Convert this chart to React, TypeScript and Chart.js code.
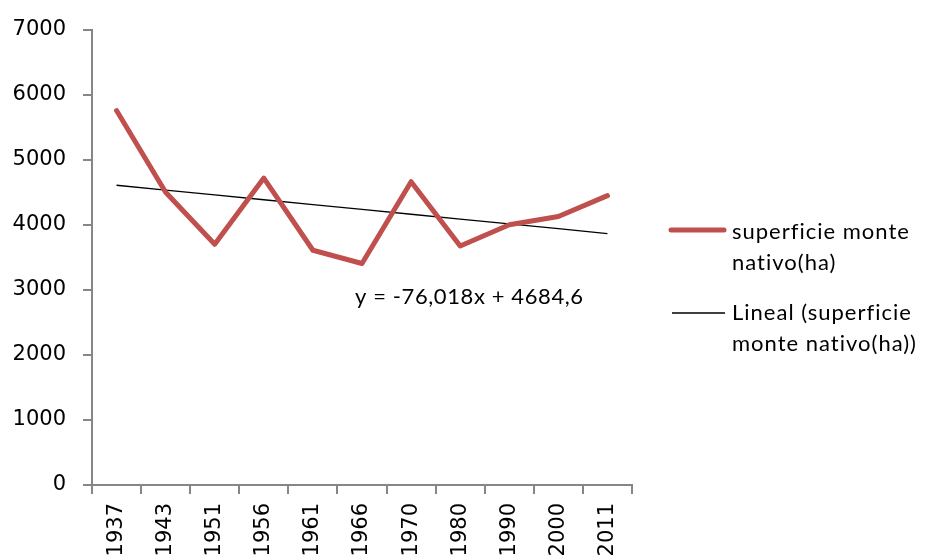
import React, { useEffect, useRef } from "react";
import { Chart, registerables } from "chart.js";

Chart.register(...registerables);

const YEARS = ["1937", "1943", "1951", "1956", "1961", "1966", "1970", "1980", "1990", "2000", "2011"];
const SUPERFICIE = [5756, 4500, 3700, 4718, 3608, 3405, 4662, 3674, 4000, 4127, 4448];
const SERIES_LABEL = ["superficie monte", "nativo(ha)"];
const TREND_LABEL = ["Lineal (superficie", "monte nativo(ha))"];
const EQUATION = "y = -76,018x + 4684,6";
const Y_MIN = 0;
const Y_MAX = 7000;
const Y_STEP = 1000;

// Excel-style linear trendline (least squares over x = 1..n)
function linearTrend(values: number[]): number[] {
  const n = values.length;
  const xs = values.map((_, i) => i + 1);
  const mx = xs.reduce((a, b) => a + b, 0) / n;
  const my = values.reduce((a, b) => a + b, 0) / n;
  let sxy = 0;
  let sxx = 0;
  for (let i = 0; i < n; i++) {
    sxy += (xs[i] - mx) * (values[i] - my);
    sxx += (xs[i] - mx) * (xs[i] - mx);
  }
  const slope = sxy / sxx;
  const intercept = my - slope * mx;
  return xs.map((x) => slope * x + intercept);
}

const RED = "#C0504D";
const AXIS = "#868686";
const TEXT_FONT = "Lato, 'Open Sans', sans-serif";
const TICK_FONT = "DejaVu Sans, sans-serif";

const overlayPlugin = {
  id: "overlay",
  afterDraw(chart: any) {
    const ctx = chart.ctx;
    ctx.save();
    ctx.fillStyle = "#000";
    ctx.textBaseline = "middle";
    ctx.textAlign = "left";
    // equation label
    ctx.font = `22px ${TEXT_FONT}`;
    (ctx as any).letterSpacing = "0.6px";
    ctx.fillText(EQUATION, 355, 297);

    // legend
    ctx.lineCap = "round";
    ctx.strokeStyle = RED;
    ctx.lineWidth = 5;
    ctx.beginPath();
    ctx.moveTo(671, 230);
    ctx.lineTo(724, 230);
    ctx.stroke();

    ctx.lineCap = "butt";
    ctx.strokeStyle = "#000";
    ctx.lineWidth = 1.3;
    ctx.beginPath();
    ctx.moveTo(672, 313);
    ctx.lineTo(725, 313);
    ctx.stroke();

    ctx.font = `22px ${TEXT_FONT}`;
    (ctx as any).letterSpacing = "1px";
    ctx.fillText(SERIES_LABEL[0], 732, 232);
    ctx.fillText(SERIES_LABEL[1], 732, 263);
    ctx.fillText(TREND_LABEL[0], 732, 313);
    ctx.fillText(TREND_LABEL[1], 732, 344);
    ctx.restore();
  },
};

export default function App() {
  const ref = useRef<HTMLCanvasElement | null>(null);

  useEffect(() => {
    if (!ref.current) return;
    const chart = new Chart(ref.current, {
      type: "line",
      data: {
        labels: YEARS,
        datasets: [
          {
            label: SERIES_LABEL.join(" "),
            data: SUPERFICIE,
            borderColor: RED,
            borderWidth: 5,
            pointRadius: 0,
            tension: 0,
            fill: false,
            borderCapStyle: "round",
            borderJoinStyle: "round",
          },
          {
            label: TREND_LABEL.join(" "),
            data: linearTrend(SUPERFICIE),
            borderColor: "#000",
            borderWidth: 1.3,
            pointRadius: 0,
            tension: 0,
            fill: false,
          },
        ],
      },
      options: {
        animation: false,
        responsive: false,
        maintainAspectRatio: false,
        layout: { padding: { top: 28, right: 293, left: 0, bottom: 0 } },
        plugins: {
          legend: { display: false },
          tooltip: { enabled: false },
          title: { display: false },
        },
        scales: {
          x: {
            type: "category",
            offset: true,
            grid: {
              offset: true,
              drawOnChartArea: false,
              drawTicks: true,
              tickLength: 9,
              color: AXIS,
              lineWidth: 2,
            },
            border: { display: true, color: AXIS, width: 2 },
            ticks: {
              minRotation: 90,
              maxRotation: 90,
              autoSkip: false,
              color: "#000",
              padding: 9,
              font: { family: TICK_FONT, size: 21 },
            },
            afterFit(scale: any) {
              scale.height = 73;
            },
          },
          y: {
            min: Y_MIN,
            max: Y_MAX,
            grid: {
              drawOnChartArea: false,
              drawTicks: true,
              tickLength: 9,
              color: AXIS,
              lineWidth: 2,
            },
            border: { display: true, color: AXIS, width: 2 },
            ticks: {
              stepSize: Y_STEP,
              color: "#000",
              padding: 17,
              font: { family: TICK_FONT, size: 21 },
              callback: (v: any) => String(v),
            },
            afterFit(scale: any) {
              scale.width = 92;
            },
          },
        },
      },
      plugins: [overlayPlugin],
    });
    return () => chart.destroy();
  }, []);

  return (
    <div style={{ position: "fixed", left: 0, top: 0, width: 925, height: 558, background: "#fff" }}>
      <canvas ref={ref} width={925} height={558} style={{ display: "block" }} />
    </div>
  );
}
